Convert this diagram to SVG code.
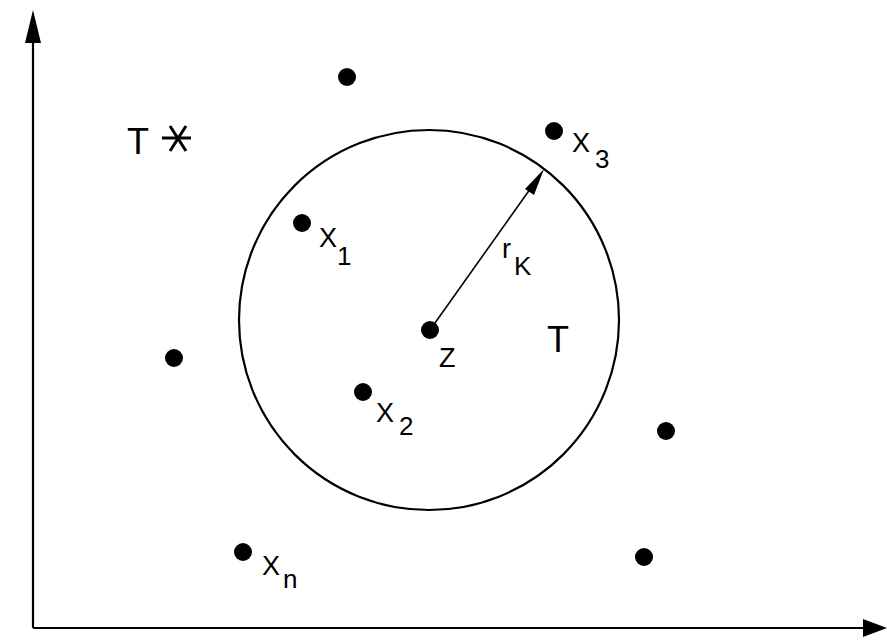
<svg xmlns="http://www.w3.org/2000/svg" width="887" height="641" viewBox="0 0 887 641">
<style>
.ax{stroke:#000;stroke-width:2.2;fill:none}
.ln{stroke:#000;stroke-width:1.6;fill:none}
.pt{fill:#000}
.lb{font-family:"Liberation Sans",Arial,sans-serif;font-size:27px;fill:#000}
.sb{font-family:"Liberation Sans",Arial,sans-serif;font-size:26px;fill:#000}
.tt{font-family:"Liberation Sans",Arial,sans-serif;font-size:36px;fill:#000}
</style>
<rect width="887" height="641" fill="#fff"/>
<g id="connectors">
<line class="ax" x1="33" y1="628" x2="33" y2="30"/>
<polygon class="pt" points="33,10 25,43 41,43"/>
<line class="ax" x1="33" y1="628" x2="868" y2="628"/>
<polygon class="pt" points="887,628 863,619 863,637"/>
<line class="ln" x1="430" y1="330" x2="533" y2="185"/>
<polygon class="pt" points="544,169 525,189 534,195"/>
</g>
<g id="circle"><circle class="ax" cx="429" cy="320" r="190"/></g>
<g id="T-star">
<text class="tt" x="127" y="154">T</text>
<g stroke="#000" stroke-width="3" fill="none">
<line x1="162" y1="138" x2="191" y2="138"/>
<line x1="170" y1="126" x2="186" y2="151"/>
<line x1="186" y1="126" x2="170" y2="151"/>
</g>
</g>
<g id="T-in"><text class="tt" x="547" y="352">T</text></g>
<g id="p-top"><circle class="pt" cx="347" cy="77" r="9"/></g>
<g id="x3"><circle class="pt" cx="554" cy="131" r="9"/><text class="lb" x="572" y="152">X</text><text class="sb" x="595" y="168">3</text></g>
<g id="x1"><circle class="pt" cx="302" cy="223" r="9"/><text class="lb" x="319" y="247">X</text><text class="sb" x="337" y="265">1</text></g>
<g id="rk"><text class="lb" x="502" y="258" font-size="28">r</text><text class="sb" x="514" y="275" font-size="25">K</text></g>
<g id="z"><circle class="pt" cx="430" cy="330" r="9"/><text class="lb" x="439" y="367">Z</text></g>
<g id="p-left"><circle class="pt" cx="174" cy="358" r="9"/></g>
<g id="x2"><circle class="pt" cx="363" cy="392" r="9"/><text class="lb" x="376" y="422">X</text><text class="sb" x="399" y="435">2</text></g>
<g id="p-right"><circle class="pt" cx="666" cy="431" r="9"/></g>
<g id="xn"><circle class="pt" cx="243" cy="552" r="9"/><text class="lb" x="262" y="575">X</text><text class="sb" x="283" y="588" font-size="28">n</text></g>
<g id="p-br"><circle class="pt" cx="644" cy="557" r="9"/></g>
</svg>
